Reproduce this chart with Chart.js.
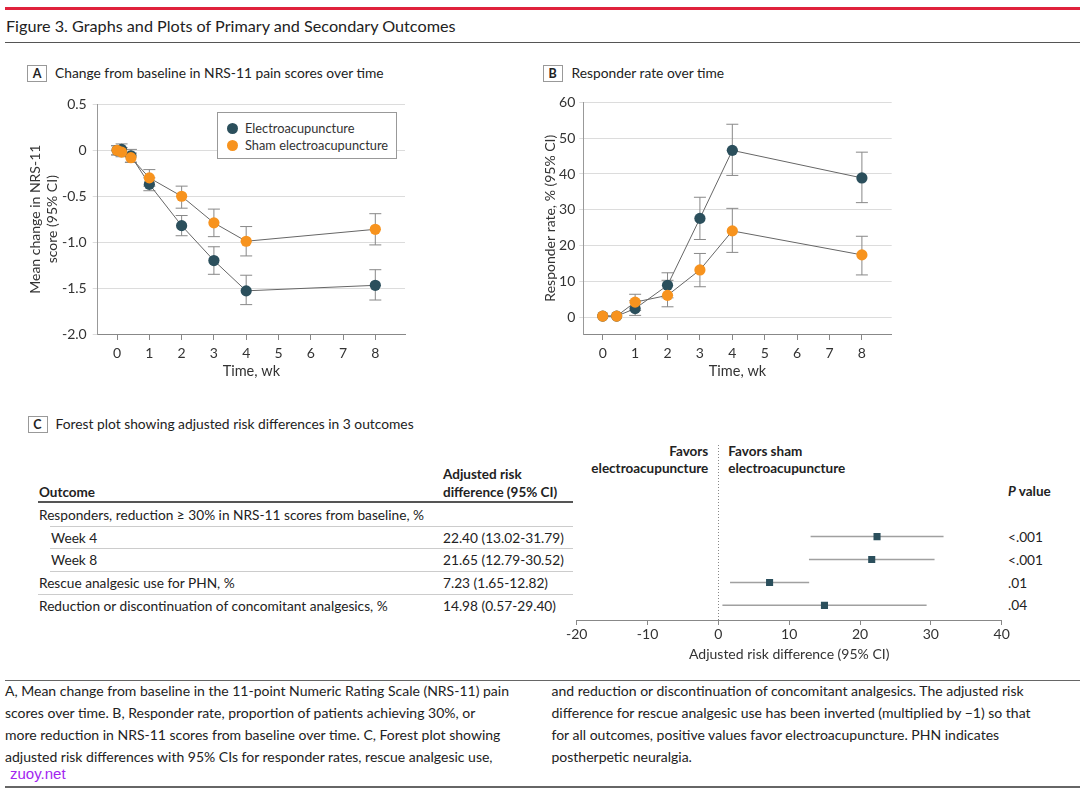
<!DOCTYPE html>
<html>
<head>
<meta charset="utf-8">
<script src="https://cdn.jsdelivr.net/npm/chart.js@4.4.3/dist/chart.umd.min.js"></script>
<style>
  body{margin:0;background:#fff;font-family:Lato,"Noto Sans",sans-serif;color:#222}
  #page{position:relative;width:1080px;height:790px;overflow:hidden}
  .a{position:absolute;white-space:nowrap;line-height:18px}
  .box{position:absolute;border:1px solid #999;box-sizing:border-box;font-weight:700;font-size:12.5px;text-align:center;line-height:15px;color:#222}
  .rule{position:absolute}
  .cv{position:absolute}
  .dot{position:absolute;width:11px;height:11px;border-radius:50%}
  .b{font-weight:700;font-size:13.5px}
  .t{font-size:13.7px}
  .ptitle{font-size:13.8px}
  .leg{font-size:12.8px;color:#333}
  .foot{font-size:14px;line-height:22px;color:#222}
</style>
</head>
<body>
<div id="page">
  <div class="rule" style="left:5px;top:7px;width:1075px;height:3px;background:#e0223c"></div>
  <div class="a" style="left:6px;top:15px;font-size:16.2px;line-height:22px">Figure 3. Graphs and Plots of Primary and Secondary Outcomes</div>
  <div class="rule" style="left:5px;top:41.5px;width:1075px;height:1.5px;background:#555"></div>

  <!-- panel A -->
  <div class="box" style="left:27px;top:65px;width:20px;height:17px">A</div>
  <div class="a ptitle" style="left:55px;top:64px">Change from baseline in NRS-11 pain scores over time</div>
  <div class="cv" style="left:20px;top:90px;width:400px;height:300px"><canvas id="chartA"></canvas></div>
  <div class="rule" style="left:217px;top:112px;width:180px;height:47px;border:1px solid #999;box-sizing:border-box;background:#fff"></div>
  <div class="dot" id="legDot1" style="left:226.5px;top:122.5px"></div>
  <div class="a leg" id="legTxt1" style="left:245px;top:119px"></div>
  <div class="dot" id="legDot2" style="left:226.5px;top:139.5px"></div>
  <div class="a leg" id="legTxt2" style="left:245px;top:136px"></div>

  <!-- panel B -->
  <div class="box" style="left:542.5px;top:65px;width:20px;height:17px">B</div>
  <div class="a ptitle" style="left:571.5px;top:64px">Responder rate over time</div>
  <div class="cv" style="left:530px;top:90px;width:380px;height:300px"><canvas id="chartB"></canvas></div>

  <!-- panel C -->
  <div class="box" style="left:27.5px;top:416px;width:20px;height:17px">C</div>
  <div class="a ptitle" style="left:55.5px;top:415px">Forest plot showing adjusted risk differences in 3 outcomes</div>
  <div id="table"></div>
  <div class="a b" style="right:371.7px;top:441.7px;text-align:right">Favors</div>
  <div class="a b" style="right:371.7px;top:459.3px;text-align:right">electroacupuncture</div>
  <div class="a b" style="left:728.3px;top:441.7px">Favors sham</div>
  <div class="a b" style="left:728.3px;top:459.3px">electroacupuncture</div>
  <div class="a b" style="left:1008px;top:482px"><i>P</i> value</div>
  <div id="pvals"></div>
  <div class="cv" style="left:560px;top:435px;width:510px;height:235px"><canvas id="chartC"></canvas></div>

  <!-- footnote -->
  <div class="rule" style="left:5px;top:679.5px;width:1075px;height:1.5px;background:#666"></div>
  <div class="a foot" style="left:5px;top:680px">A, Mean change from baseline in the 11-point Numeric Rating Scale (NRS-11) pain<br>scores over time. B, Responder rate, proportion of patients achieving 30%, or<br>more reduction in NRS-11 scores from baseline over time. C, Forest plot showing<br>adjusted risk differences with 95% CIs for responder rates, rescue analgesic use,</div>
  <div class="a foot" style="left:551.5px;top:680px">and reduction or discontinuation of concomitant analgesics. The adjusted risk<br>difference for rescue analgesic use has been inverted (multiplied by −1) so that<br>for all outcomes, positive values favor electroacupuncture. PHN indicates<br>postherpetic neuralgia.</div>
  <div class="a" style="left:10px;top:765px;font-size:15px;color:#a326f0;font-family:'Liberation Sans',Arial,sans-serif">zuoy.net</div>
  <div class="rule" style="left:5px;top:786px;width:1075px;height:2px;background:#666"></div>
</div>

<script>
// 색상
const DARK = '#2b4f5c';
const ORANGE = '#f7931e';
const LINE = '#666';
const BAR = '#888';

// 시리즈 이름
const seriesNames = ['Electroacupuncture', 'Sham electroacupuncture'];

// A: NRS-11 변화량 (주)
const weeksA = [0, 0.14, 0.43, 1, 2, 3, 4, 8];
const eaA    = [0, 0.01, -0.06, -0.37, -0.82, -1.20, -1.53, -1.47];
const eaALo  = [-0.05, -0.06, -0.13, -0.44, -0.93, -1.35, -1.68, -1.63];
const eaAHi  = [0.05, 0.07, 0.01, -0.30, -0.71, -1.05, -1.36, -1.30];
const shamA   = [0, -0.02, -0.08, -0.30, -0.50, -0.79, -0.99, -0.86];
const shamALo = [-0.05, -0.07, -0.13, -0.39, -0.63, -0.94, -1.15, -1.03];
const shamAHi = [0.05, 0.03, -0.03, -0.21, -0.39, -0.64, -0.83, -0.69];
const yTicksA = [0.5, 0, -0.5, -1.0, -1.5, -2.0];
const yLabelsA = ['0.5', '0', '-0.5', '-1.0', '-1.5', '-2.0'];

// B: 반응률 (%)
const weeksB = [0, 0.43, 1, 2, 3, 4, 8];
const eaB    = [0.3, 0.3, 2.4, 8.9, 27.6, 46.6, 38.9];
const eaBLo  = [0.3, 0.3, 0.5, 5.4, 21.7, 39.6, 32.0];
const eaBHi  = [0.3, 0.3, 4.6, 12.4, 33.5, 53.9, 46.1];
const shamB   = [0.3, 0.3, 4.2, 6.1, 13.2, 24.1, 17.4];
const shamBLo = [0.3, 0.3, 1.9, 2.9, 8.5, 18.1, 11.8];
const shamBHi = [0.3, 0.3, 6.4, 10.3, 17.8, 30.4, 22.6];
const yTicksB = [0, 10, 20, 30, 40, 50, 60];

const xTicks = [0, 1, 2, 3, 4, 5, 6, 7, 8];

// C: forest plot
const groupLabel = 'Responders, reduction ≥ 30% in NRS-11 scores from baseline, %';
const outcomes = ['Week 4', 'Week 8', 'Rescue analgesic use for PHN, %', 'Reduction or discontinuation of concomitant analgesics, %'];
const indent   = [true, true, false, false];
const rd   = [22.40, 21.65, 7.23, 14.98];
const rdLo = [13.02, 12.79, 1.65, 0.57];
const rdHi = [31.79, 30.52, 12.82, 29.40];
const pValues = ['<.001', '<.001', '.01', '.04'];
const forestTicks = [-20, -10, 0, 10, 20, 30, 40];

Chart.defaults.font.family = 'Lato, "Noto Sans", sans-serif';
Chart.defaults.font.size = 14;
Chart.defaults.color = '#333';
Chart.defaults.animation = false;

// 에러바 플러그인: 스케일 좌표로 그림
const errorBars = {
  id: 'errorBars',
  beforeDatasetsDraw(chart, args, opts){
    const {ctx} = chart;
    const xs = chart.scales.x, ys = chart.scales.y;
    ctx.save();
    ctx.strokeStyle = opts.color || BAR;
    ctx.lineWidth = opts.width || 1;
    chart.data.datasets.forEach(ds=>{
      if(!ds.lo) return;
      ds.data.forEach((p,i)=>{
        const lo = ds.lo[i], hi = ds.hi[i];
        if(lo===hi) return;
        ctx.beginPath();
        if(opts.horizontal){
          const y = ys.getPixelForValue(p.y);
          ctx.moveTo(xs.getPixelForValue(lo), y);
          ctx.lineTo(xs.getPixelForValue(hi), y);
        }else{
          const x = xs.getPixelForValue(p.x);
          const y1 = ys.getPixelForValue(lo), y2 = ys.getPixelForValue(hi);
          const c = opts.cap || 6;
          ctx.moveTo(x, y1); ctx.lineTo(x, y2);
          ctx.moveTo(x-c, y1); ctx.lineTo(x+c, y1);
          ctx.moveTo(x-c, y2); ctx.lineTo(x+c, y2);
        }
        ctx.stroke();
      });
    });
    ctx.restore();
  }
};

function pts(xs, ys){ return xs.map((x,i)=>({x, y:ys[i]})); }

function series(label, xs, ys, lo, hi, color, order){
  return {
    label, data: pts(xs, ys), lo, hi, order,
    borderColor: LINE, borderWidth: 1,
    pointRadius: 5.6, pointHoverRadius: 5.6,
    pointBackgroundColor: color, pointBorderWidth: 0,
    tension: 0
  };
}

function timeChart(id, datasets, o){
  return new Chart(document.getElementById(id), {
    type: 'line',
    data: { datasets },
    plugins: [errorBars],
    options: {
      responsive: true, maintainAspectRatio: false,
      layout: { padding: o.padding },
      plugins: { legend:{display:false}, tooltip:{enabled:false}, errorBars:{cap:6} },
      scales: {
        x: {
          type: 'linear', min: -0.6, max: 8.92,
          afterBuildTicks: s=>{ s.ticks = xTicks.map(v=>({value:v})); },
          afterFit: s=>{ s.height = 56; },
          grid: { drawOnChartArea:false, drawTicks:true, tickLength:6, tickColor:'#888' },
          border: { color:'#888' },
          ticks: { padding:5, color:'#333', maxRotation:0, autoSkip:false },
          title: { display:true, text:'Time, wk', font:{size:14.5, lineHeight:1.2}, padding:{top:0, bottom:9.6}, color:'#333' }
        },
        y: {
          type: 'linear', min: o.ymin, max: o.ymax,
          afterBuildTicks: s=>{ s.ticks = o.yTicks.map(v=>({value:v})); },
          afterFit: s=>{ s.width = o.yWidth; },
          grid: { color:'#dcdcdc', tickLength:o.tickLen, tickColor:'#dcdcdc' },
          border: { color:'#999' },
          ticks: { padding:o.tickPad, color:'#333', callback:(v,i)=>o.yLabels[i] },
          title: { display:true, text:o.yTitle, font:{size:14, lineHeight:1.2}, padding:{top:o.titlePad, bottom:0}, color:'#333' }
        }
      }
    }
  });
}

timeChart('chartA', [
  series(seriesNames[0], weeksA, eaA, eaALo, eaAHi, DARK, 1),
  series(seriesNames[1], weeksA, shamA, shamALo, shamAHi, ORANGE, 0)
], {
  padding: {left:0, top:10.7, right:15, bottom:0},
  ymin: -2.0, ymax: 0.5, yTicks: yTicksA, yLabels: yLabelsA,
  yWidth: 77.7, tickLen: 5, tickPad: 6, titlePad: 7.3,
  yTitle: ['Mean change in NRS-11', 'score (95% CI)']
});

timeChart('chartB', [
  series(seriesNames[0], weeksB, eaB, eaBLo, eaBHi, DARK, 1),
  series(seriesNames[1], weeksB, shamB, shamBLo, shamBHi, ORANGE, 0)
], {
  padding: {left:0, top:10.7, right:18.3, bottom:0},
  ymin: -4.7, ymax: 60, yTicks: yTicksB, yLabels: yTicksB.map(String),
  yWidth: 53.3, tickLen: 4, tickPad: 4, titlePad: 12.3,
  yTitle: 'Responder rate, % (95% CI)'
});

// 범례 (HTML)
document.getElementById('legDot1').style.background = DARK;
document.getElementById('legDot2').style.background = ORANGE;
document.getElementById('legTxt1').textContent = seriesNames[0];
document.getElementById('legTxt2').textContent = seriesNames[1];

// C: 표
(function buildTable(){
  const rowC = [537.7, 560, 583.3, 605.7];
  let h = '';
  h += `<div class="a b" style="left:443px;top:465.3px">Adjusted risk</div>`;
  h += `<div class="a b" style="left:443px;top:482.7px">difference (95% CI)</div>`;
  h += `<div class="a b" style="left:39px;top:482.7px">Outcome</div>`;
  h += `<div class="rule" style="left:38px;top:501px;width:535px;height:2px;background:#555"></div>`;
  h += `<div class="a t" style="left:39px;top:506px">${groupLabel}</div>`;
  h += `<div class="rule" style="left:50px;top:525.5px;width:523px;height:1px;background:#ccc"></div>`;
  const rules = [548, 571.3, 594];
  outcomes.forEach((name,i)=>{
    const top = rowC[i]-9;
    const ci = `${rd[i].toFixed(2)} (${rdLo[i].toFixed(2)}-${rdHi[i].toFixed(2)})`;
    h += `<div class="a t" style="left:${indent[i]?51:39}px;top:${top}px">${name}</div>`;
    h += `<div class="a t" style="left:443px;top:${top}px">${ci}</div>`;
    if(i<rules.length){
      const l = indent[i] ? 50 : 38;
      h += `<div class="rule" style="left:${l}px;top:${rules[i]}px;width:${573-l}px;height:1px;background:#ccc"></div>`;
    }
  });
  document.getElementById('table').innerHTML = h;
  const pc = [536.7, 560, 582.7, 605.3];
  document.getElementById('pvals').innerHTML = pValues.map((p,i)=>
    `<div class="a t" style="left:1008px;top:${pc[i]-9}px">${p.replace('<','&lt;')}</div>`).join('');
})();

// C: forest plot
new Chart(document.getElementById('chartC'), {
  type: 'scatter',
  data: {
    datasets: [{
      data: rd.map((v,i)=>({x:v, y:i})),
      lo: rdLo, hi: rdHi,
      pointStyle: 'rect', pointRadius: 5, pointHoverRadius: 5,
      pointBackgroundColor: DARK, pointBorderWidth: 0
    }]
  },
  plugins: [errorBars],
  options: {
    responsive: true, maintainAspectRatio: false,
    layout: { padding: {left:16.7, top:10, right:68.3, bottom:0} },
    plugins: { legend:{display:false}, tooltip:{enabled:false}, errorBars:{horizontal:true, color:'#a0a0a0', width:1.5} },
    scales: {
      x: {
        type: 'linear', min: -20, max: 40,
        afterBuildTicks: s=>{ s.ticks = forestTicks.map(v=>({value:v})); },
        afterFit: s=>{ s.height = 50; },
        grid: {
          color: c => (c.tick && c.tick.value===0) ? '#888' : 'rgba(0,0,0,0)',
          drawTicks: true, tickLength: 5, tickColor: '#888'
        },
        border: { color:'#888', dash:[1,2] },
        ticks: { padding:1, color:'#333', maxRotation:0, autoSkip:false },
        title: { display:true, text:'Adjusted risk difference (95% CI)', font:{size:14, lineHeight:1.2}, padding:{top:0, bottom:7.6}, color:'#333' }
      },
      y: { type:'linear', display:false, reverse:true, min:-4.0, max:3.64 }
    }
  }
});
</script>
</body>
</html>
